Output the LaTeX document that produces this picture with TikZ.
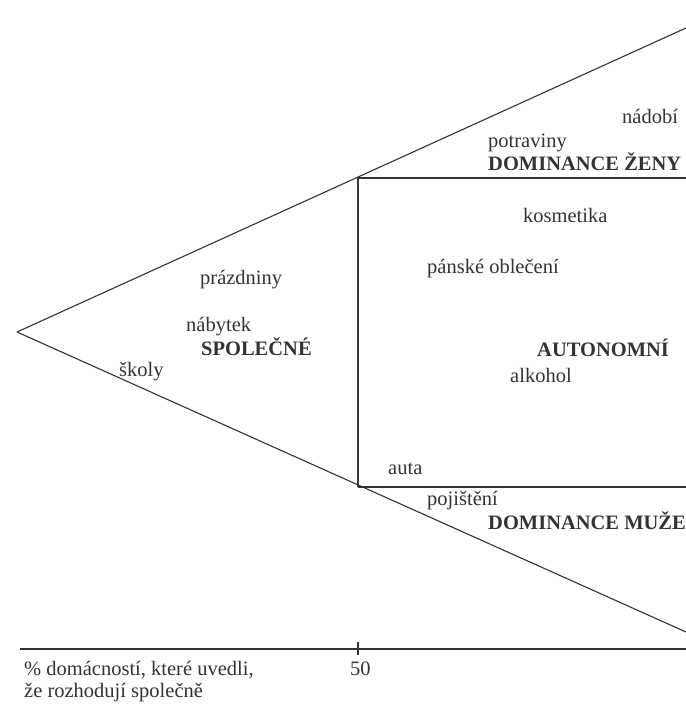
\documentclass[tikz,border=0pt]{standalone}
\usepackage{fontspec}
\setmainfont{Liberation Serif}
\begin{document}
\begin{tikzpicture}[x=1pt,y=1pt,
  lbl/.style={anchor=base west,inner sep=0pt,font=\fontsize{20.5}{24}\selectfont,text=black!80},
  head/.style={lbl,font=\fontsize{20.5}{24}\selectfont\bfseries},
  ln/.style={line width=1.1pt,black!80}]
\useasboundingbox (0,0) rectangle (686,705);
% geometry (y = 705 - pixel row)
\coordinate (apex) at (17,373);
\coordinate (ut) at (686,677);
\coordinate (ua) at (358,527);
\coordinate (la) at (358,218);
\coordinate (lb) at (686,73);
\coordinate (ur) at (686,527);
\coordinate (lr) at (686,218);
\coordinate (ax0) at (20,56);
\coordinate (ax1) at (686,56);
\coordinate (tk0) at (358,63);
\coordinate (tk1) at (358,50);
\draw[ln] (apex) -- (ut);
\draw[ln] (apex) -- (lb);
\draw[ln] (ua) -- (la);
\draw[ln] (ua) -- (ur);
\draw[ln] (la) -- (lr);
\draw[ln] (ax0) -- (ax1);
\draw[ln] (tk0) -- (tk1);
% labels
\node[lbl] (nadobi) at (622,581) {nádobí};
\node[lbl] (potraviny) at (488,557) {potraviny};
\node[head] (zeny) at (488,534) {DOMINANCE ŽENY};
\node[lbl] (kosmetika) at (523,482) {kosmetika};
\node[lbl] (panske) at (427,431) {pánské oblečení};
\node[lbl] (prazdniny) at (200,420) {prázdniny};
\node[lbl] (nabytek) at (186,373) {nábytek};
\node[head] (spolecne) at (201,349) {SPOLEČNÉ};
\node[lbl] (skoly) at (119,328) {školy};
\node[head] (autonomni) at (537,348) {AUTONOMNÍ};
\node[lbl] (alkohol) at (510,322) {alkohol};
\node[lbl] (auta) at (388,230) {auta};
\node[lbl] (pojisteni) at (427,199) {pojištění};
\node[head] (muze) at (488,175) {DOMINANCE MUŽE};
\node[lbl] (padesat) at (350,29) {50};
\node[lbl] (osa1) at (24,29) {\% domácností, které uvedli,};
\node[lbl] (osa2) at (24,8) {že rozhodují společně};
\end{tikzpicture}
\end{document}
